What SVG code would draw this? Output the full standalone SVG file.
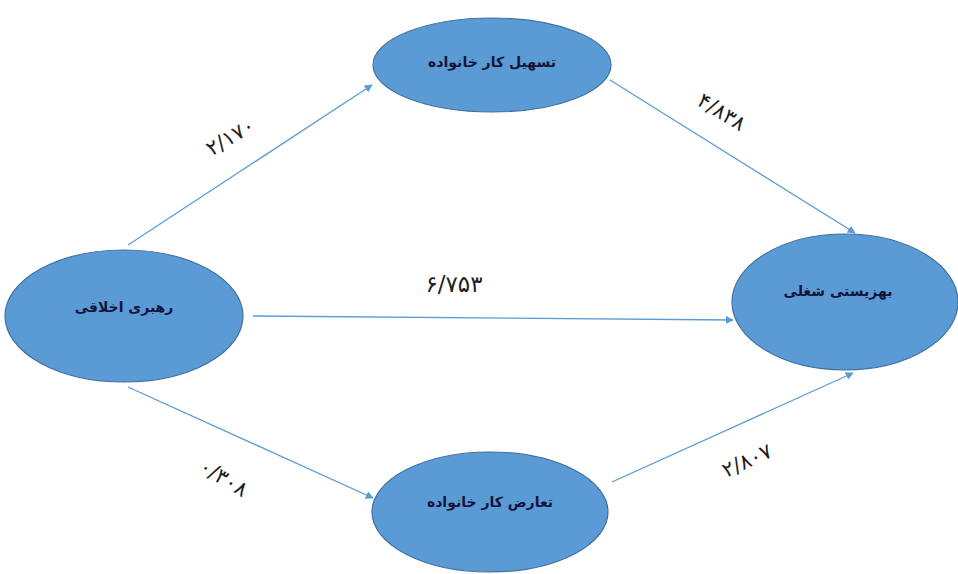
<svg xmlns="http://www.w3.org/2000/svg" width="958" height="574" viewBox="0 0 958 574">
  <style>
    .node ellipse { fill: #5b9bd5; stroke: #41719c; stroke-width: 1.2; }
    .node text { font-family: "DejaVu Sans", "Noto Sans", sans-serif; font-size: 14px; font-weight: bold; fill: #14143a; text-anchor: middle; }
    .edge { stroke: #5b9bd5; stroke-width: 1.3; fill: none; marker-end: url(#arrow); }
    .coef { font-family: "DejaVu Sans", "Noto Sans", sans-serif; font-size: 21px; fill: #1e1e1e; text-anchor: middle; }
    .coef.wide { font-size: 23px; }
  </style>
  <defs>
    <marker id="arrow" viewBox="0 0 10 10" refX="9" refY="5" markerWidth="8" markerHeight="8" markerUnits="userSpaceOnUse" orient="auto">
      <path d="M0,0 L10,5 L0,10 z" fill="#5b9bd5"/>
    </marker>
  </defs>
  <rect width="958" height="574" fill="#ffffff"/>

  <g id="connectors">
    <line class="edge" x1="128" y1="245" x2="372" y2="85"/>
    <line class="edge" x1="610" y1="80" x2="855" y2="233"/>
    <line class="edge" x1="253" y1="316" x2="733" y2="320"/>
    <line class="edge" x1="128" y1="387" x2="373" y2="498"/>
    <line class="edge" x1="612" y1="482" x2="853" y2="373"/>
  </g>

  <g id="labels">
    <text class="coef" transform="translate(234,143) rotate(-31)">۲/۱۷۰</text>
    <text class="coef" transform="translate(718,118) rotate(32)">۴/۸۳۸</text>
    <text class="coef wide" x="454" y="292">۶/۷۵۳</text>
    <text class="coef" transform="translate(220,484) rotate(31)">۰/۳۰۸</text>
    <text class="coef" transform="translate(750,467) rotate(-25)">۲/۸۰۷</text>
  </g>

  <g id="node-facilitation" class="node">
    <ellipse cx="492" cy="65" rx="119" ry="47"/>
    <text x="492" y="67">تسهیل کار خانواده</text>
  </g>
  <g id="node-leadership" class="node">
    <ellipse cx="124" cy="316" rx="119" ry="66"/>
    <text x="124" y="312">رهبری اخلاقی</text>
  </g>
  <g id="node-wellbeing" class="node">
    <ellipse cx="845" cy="302" rx="113" ry="68"/>
    <text x="838" y="296">بهزیستی شغلی</text>
  </g>
  <g id="node-conflict" class="node">
    <ellipse cx="490" cy="512" rx="118" ry="60"/>
    <text x="490" y="507">تعارض کار خانواده</text>
  </g>
</svg>
